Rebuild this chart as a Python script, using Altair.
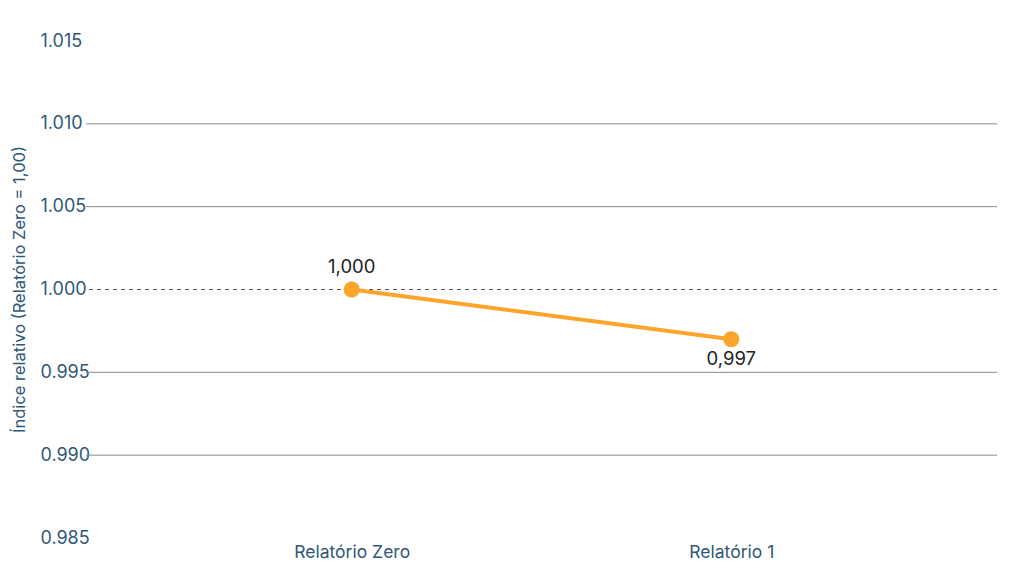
import altair as alt
import pandas as pd

# Dados do gráfico
relatorios = ["Relatório Zero", "Relatório 1"]
indices = [1.000, 0.997]
rotulos = ["1,000", "0,997"]
posicao_rotulo = ["acima", "abaixo"]

linhas_grade = [0.990, 0.995, 1.005, 1.010]
linha_base = [1.000]
ticks_y = [0.985, 0.990, 0.995, 1.000, 1.005, 1.010, 1.015]

df = pd.DataFrame({
    "relatorio": relatorios,
    "indice": indices,
    "rotulo": rotulos,
    "posicao": posicao_rotulo,
})
grade = pd.DataFrame({"y": linhas_grade})
base = pd.DataFrame({"y": linha_base})

FONTE = "Inter"
AZUL = "#2f5878"
LARANJA = "#fca52c"

y_scale = alt.Scale(domain=[0.985, 1.015], nice=False, zero=False)

x_enc = alt.X(
    "relatorio:N",
    sort=relatorios,
    scale=alt.Scale(type="point", padding=0.7),
    axis=alt.Axis(title=None, labelAngle=0, ticks=False, domain=False,
                  labelPadding=5, labelFontSize=17.5, labelColor=AZUL, labelFont=FONTE),
)
y_enc = alt.Y(
    "indice:Q",
    scale=y_scale,
    axis=alt.Axis(
        title="Índice relativo (Relatório Zero = 1,00)",
        values=ticks_y, format=".3f", grid=False, ticks=False, domain=False,
        labelAlign="left", labelPadding=46, labelFontSize=18, labelColor=AZUL,
        labelFont=FONTE, titleFont=FONTE, titleFontSize=16.5, titleFontWeight="normal",
        titleColor=AZUL, titleX=-62, titleY=248, titleAngle=-90,
        titleBaseline="alphabetic",
    ),
)

# linhas de grade sólidas
grid = alt.Chart(grade).mark_rule(color="#8a8a8a", strokeWidth=1).encode(
    y=alt.Y("y:Q", scale=y_scale)
)

# linha tracejada em 1,000
baseline = alt.Chart(base).mark_rule(color="#555555", strokeWidth=1, strokeDash=[4, 4]).encode(
    y=alt.Y("y:Q", scale=y_scale)
)

linha = alt.Chart(df).mark_line(color=LARANJA, strokeWidth=4).encode(x=x_enc, y=y_enc)
pontos = alt.Chart(df).mark_circle(color=LARANJA, size=260, opacity=1).encode(x=x_enc, y=y_enc)

texto_acima = alt.Chart(df).transform_filter(alt.datum.posicao == "acima").mark_text(
    dy=-23, fontSize=18.5, font=FONTE, color="#222222"
).encode(x=x_enc, y=y_enc, text="rotulo:N")

texto_abaixo = alt.Chart(df).transform_filter(alt.datum.posicao == "abaixo").mark_text(
    dy=20, fontSize=18.5, font=FONTE, color="#222222"
).encode(x=x_enc, y=y_enc, text="rotulo:N")

chart = (grid + baseline + linha + pontos + texto_acima + texto_abaixo).properties(
    width=911,
    height=497,
    autosize=alt.AutoSizeParams(type="none"),
    padding={"left": 78, "top": 33, "right": 19, "bottom": 33},
).configure_view(stroke=None)

chart.save("out.html", embed_options={"renderer": "svg", "actions": False})
